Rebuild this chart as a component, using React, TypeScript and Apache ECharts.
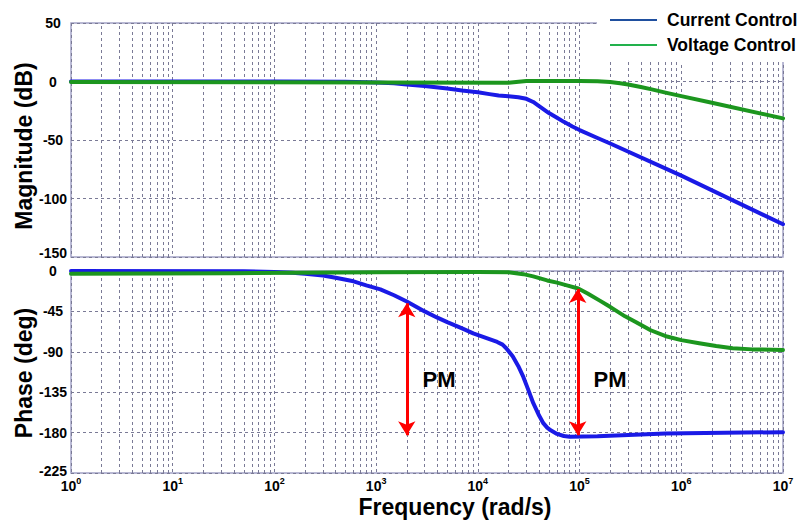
import React, { useEffect, useRef } from 'react';
import * as echarts from 'echarts';

const FONT = '"Liberation Sans", Arial, Helvetica, sans-serif';

// Magnitude (dB) — Current Control
const currentMagFreq = [1, 100, 500, 1000, 1500, 2000, 3000, 5000, 7000, 10000, 13000, 16000, 20000, 25000, 30000, 35000, 40000, 50000, 60000, 70000, 85000, 100000, 150000, 200000, 1e6, 1e7];
const currentMagDb = [0, 0, -0.3, -0.8, -1.6, -2.5, -3.8, -6, -7.7, -9.2, -10.8, -12, -12.6, -13.4, -14.8, -17.5, -21, -27, -31, -34.5, -38.5, -41.5, -48.3, -53, -80.5, -122];

// Magnitude (dB) — Voltage Control
const voltageMagFreq = [1, 1000, 20000, 30000, 100000, 150000, 200000, 250000, 300000, 400000, 500000, 700000, 1e6, 2e6, 1e7];
const voltageMagDb = [-0.5, -0.8, -1, 0.5, 0.5, 0.2, -0.5, -1.5, -2.5, -4.7, -6.5, -9.5, -12.5, -18.2, -31.5];

// Phase (deg) — Current Control
const currentPhaseFreq = [1, 50, 100, 150, 200, 300, 400, 600, 800, 1100, 1500, 2000, 2500, 3000, 4000, 5000, 7000, 9000, 12000, 15500, 17500, 19000, 22000, 25000, 28000, 31000, 35000, 40000, 44000, 48000, 52000, 60000, 70000, 80000, 150000, 700000, 1e7];
const currentPhaseDeg = [0, -0.3, -1, -2, -3, -5, -7.5, -11.5, -16, -20.5, -27, -34, -40, -45, -52, -57, -64, -69.5, -74.5, -79, -82, -86, -95, -106, -118, -131, -147, -161, -169.5, -174.5, -177.5, -181.5, -183.8, -184.5, -184, -181, -179.5];

// Phase (deg) — Voltage Control
const voltagePhaseFreq = [1, 40, 1000, 10000, 20000, 28000, 35000, 48000, 60000, 75000, 97000, 120000, 158000, 190000, 220000, 280000, 360000, 500000, 724000, 1e6, 1.5e6, 2.2e6, 3.2e6, 5e6, 1e7];
const voltagePhaseDeg = [-3, -2.5, -1.5, -1, -1.5, -3.5, -6, -10.5, -13, -16, -19.5, -25, -33, -38.5, -43, -50.5, -57, -66, -73, -77, -80.5, -83.5, -86, -87.3, -88];

// Phase margin arrows (frequency, top phase, bottom phase)
const pmFreq = [2000, 96000];
const pmTop = [-36, -20];
const pmBottom = [-183, -183];

// Axis ranges
const freqRange = [1, 1e7];
const magRange = [-150, 50];
const magStep = 50;
const phaseRange = [-225, 0];
const phaseStep = 45;
const decadeCount = 7;
const minorMultipliers = [2, 3, 4, 5, 6, 7, 8, 9];

const seriesNames = ['Current Control', 'Voltage Control'];

const BLUE = '#1a1ae6';
const GREEN = '#1c961e';
const GRIDC = '#7a7a96';

function pairs(xs: number[], ys: number[]) {
  return xs.map((x, i) => [x, ys[i]]);
}

export default function App() {
  const ref = useRef<HTMLDivElement>(null);

  useEffect(() => {
    if (!ref.current) return;
    const chart = echarts.init(ref.current, null, { renderer: 'svg' });

    const minorLines: any[] = [];
    for (let d = 0; d < decadeCount; d++) {
      for (const m of minorMultipliers) {
        minorLines.push({ xAxis: m * Math.pow(10, d) });
      }
    }

    const minorMarkLine = {
      silent: true,
      symbol: 'none',
      z: 1,
      animation: false,
      label: { show: false },
      emphasis: { disabled: true },
      lineStyle: { color: GRIDC, type: [3, 3], width: 1 },
      data: minorLines,
    };

    const splitLine = { show: true, lineStyle: { color: GRIDC, type: [3, 3], width: 1 } };
    const tokenFont = { fontFamily: FONT, fontWeight: 'bold', fontSize: 14, color: '#000', lineHeight: 12 };
    const makeYLabel = (edge: number, lift: number) => ({
      ...tokenFont,
      align: 'center',
      margin: 18,
      formatter: (v: number) => (v === edge ? `{e|${v}}` : `${v}`),
      rich: { e: { ...tokenFont, padding: [0, 0, lift, 0] } },
    });

    const xBase = {
      type: 'log',
      logBase: 10,
      min: freqRange[0],
      max: freqRange[1],
      axisLine: { show: false },
      axisTick: { show: false },
      splitLine,
    };

    const lineBase = {
      type: 'line',
      showSymbol: false,
      symbol: 'none',
      smooth: false,
      silent: true,
    };

    const arrows = pmFreq.map((f, i) => [
      { coord: [f, pmTop[i]] },
      { coord: [f, pmBottom[i]] },
    ]);

    const centered = { align: 'center', verticalAlign: 'middle', textAlign: 'center', textVerticalAlign: 'middle', fill: '#000' };

    const option: any = {
      animation: false,
      backgroundColor: '#fff',
      grid: [
        { left: 71, right: 25, top: 23, height: 234, show: true, borderColor: '#a2a2c6', borderWidth: 1.5 },
        { left: 71, right: 25, top: 271, height: 202, show: true, borderColor: '#a2a2c6', borderWidth: 1.5 },
      ],
      xAxis: [
        { ...xBase, gridIndex: 0, axisLabel: { show: false } },
        {
          ...xBase,
          gridIndex: 1,
          axisLabel: {
            show: true,
            margin: 3,
            formatter: (v: number) => `{b|10}{s|${Math.round(Math.log10(v))}}`,
            rich: {
              b: { fontFamily: FONT, fontWeight: 'bold', fontSize: 14, color: '#000', lineHeight: 17, verticalAlign: 'bottom' },
              s: { fontFamily: FONT, fontWeight: 'bold', fontSize: 9, color: '#000', lineHeight: 10, verticalAlign: 'top' },
            },
          },
        },
      ],
      yAxis: [
        {
          type: 'value', gridIndex: 0, min: magRange[0], max: magRange[1], interval: magStep,
          axisLine: { show: false }, axisTick: { show: false }, axisLabel: makeYLabel(magRange[0], 8), splitLine,
        },
        {
          type: 'value', gridIndex: 1, min: phaseRange[0], max: phaseRange[1], interval: phaseStep,
          axisLine: { show: false }, axisTick: { show: false }, axisLabel: makeYLabel(phaseRange[0], 5), splitLine,
        },
      ],
      legend: {
        orient: 'vertical',
        left: 597,
        top: 0,
        padding: [11, 10, 8, 13],
        itemGap: 7,
        itemWidth: 47,
        itemHeight: 2,
        icon: 'rect',
        selectedMode: false,
        backgroundColor: '#fff',
        textStyle: { fontFamily: FONT, fontWeight: 'bold', fontSize: 17.5, color: '#000', lineHeight: 18, padding: [0, 0, 0, 5] },
        data: [
          { name: seriesNames[0], itemStyle: { color: '#1f4f9f' } },
          { name: seriesNames[1], itemStyle: { color: '#22b14c' } },
        ],
      },
      series: [
        {
          ...lineBase, name: seriesNames[0], xAxisIndex: 0, yAxisIndex: 0, z: 3,
          data: pairs(currentMagFreq, currentMagDb),
          lineStyle: { color: BLUE, width: 4, join: 'round', cap: 'round' }, itemStyle: { color: BLUE },
        },
        {
          ...lineBase, name: seriesNames[1], xAxisIndex: 0, yAxisIndex: 0, z: 4,
          data: pairs(voltageMagFreq, voltageMagDb),
          lineStyle: { color: GREEN, width: 4, join: 'round', cap: 'round' }, itemStyle: { color: GREEN },
          markLine: minorMarkLine,
        },
        {
          ...lineBase, name: seriesNames[0], xAxisIndex: 1, yAxisIndex: 1, z: 3,
          data: pairs(currentPhaseFreq, currentPhaseDeg),
          lineStyle: { color: BLUE, width: 4, join: 'round', cap: 'round' }, itemStyle: { color: BLUE },
          markLine: {
            silent: true,
            symbol: ['arrow', 'arrow'],
            symbolSize: [13, 14],
            z: 6,
            animation: false,
            label: { show: false },
            emphasis: { disabled: true },
            lineStyle: { color: '#ff0000', width: 3, type: 'solid' },
            data: arrows,
          },
        },
        {
          ...lineBase, name: seriesNames[1], xAxisIndex: 1, yAxisIndex: 1, z: 4,
          data: pairs(voltagePhaseFreq, voltagePhaseDeg),
          lineStyle: { color: GREEN, width: 4, join: 'round', cap: 'round' }, itemStyle: { color: GREEN },
          markLine: minorMarkLine,
        },
      ],
      graphic: [
        {
          type: 'text', x: 24, y: 146, rotation: Math.PI / 2, silent: true,
          style: { text: 'Magnitude (dB)', font: `bold 23px ${FONT}`, ...centered },
        },
        {
          type: 'text', x: 24, y: 373, rotation: Math.PI / 2, silent: true,
          style: { text: 'Phase (deg)', font: `bold 23px ${FONT}`, ...centered },
        },
        {
          type: 'text', x: 455, y: 507, silent: true,
          style: { text: 'Frequency (rad/s)', font: `bold 23px ${FONT}`, ...centered },
        },
        {
          type: 'text', x: 439, y: 379, silent: true, z: 10,
          style: { text: 'PM', font: `bold 22px ${FONT}`, ...centered },
        },
        {
          type: 'text', x: 610, y: 379, silent: true, z: 10,
          style: { text: 'PM', font: `bold 22px ${FONT}`, ...centered },
        },
      ],
    };

    chart.setOption(option);
    return () => chart.dispose();
  }, []);

  return (
    <div
      ref={ref}
      style={{ position: 'absolute', left: 0, top: 0, width: 808, height: 520, background: '#fff' }}
    />
  );
}
